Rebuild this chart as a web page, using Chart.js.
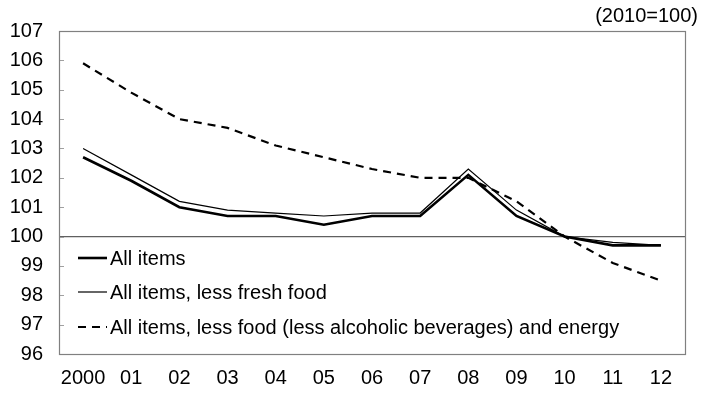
<!DOCTYPE html>
<html>
<head>
<meta charset="utf-8">
<script src="https://cdn.jsdelivr.net/npm/chart.js@4"></script>
<style>
html,body{margin:0;padding:0;background:#fff;}
#wrap{width:716px;height:399px;position:relative;}
</style>
</head>
<body>
<div id="wrap"><canvas id="c" width="716" height="399"></canvas></div>
<script>
const categories = ["2000","01","02","03","04","05","06","07","08","09","10","11","12"];
const allItems = [102.7,101.9,101.0,100.7,100.7,100.4,100.7,100.7,102.1,100.7,100.0,99.7,99.7];
const lessFreshFood = [103.0,102.1,101.2,100.9,100.8,100.7,100.8,100.8,102.3,100.9,100.0,99.8,99.7];
const lessFoodEnergy = [105.9,104.9,104.0,103.7,103.1,102.7,102.3,102.0,102.0,101.2,100.0,99.1,98.5];
const seriesLabels = ["All items","All items, less fresh food","All items, less food (less alcoholic beverages) and energy"];
const yMin = 96, yMax = 107;
const unitNote = "(2010=100)";

const FONT = "'Liberation Sans', Arial, sans-serif";

const framePlugin = {
  id: 'frame',
  afterDatasetsDraw(chart) {
    const ctx = chart.ctx, a = chart.chartArea, ys = chart.scales.y;
    ctx.save();
    // inside tick marks
    ctx.strokeStyle = '#a0a0a0';
    ctx.lineWidth = 1;
    ys.ticks.forEach(t => {
      const py = Math.round(ys.getPixelForValue(t.value)) + 0.5;
      ctx.beginPath(); ctx.moveTo(a.left, py); ctx.lineTo(a.left + 5, py); ctx.stroke();
    });
    // frame
    ctx.strokeStyle = '#808080';
    ctx.lineWidth = 1.2;
    ctx.strokeRect(Math.round(a.left)+0.5, Math.round(a.top)+0.5, Math.round(a.right-a.left), Math.round(a.bottom-a.top));
    // unit note
    ctx.fillStyle = '#000';
    ctx.font = '20px ' + FONT;
    ctx.textAlign = 'right';
    ctx.textBaseline = 'middle';
    ctx.fillText(unitNote, 698, 16);
    // legend
    const x0 = 78, x1 = 107, tx = 110;
    const rows = [258, 292, 327];
    chart.data.datasets.forEach((ds, i) => {
      ctx.strokeStyle = '#000';
      ctx.lineWidth = ds.borderWidth;
      ctx.setLineDash(ds.borderDash || []);
      ctx.beginPath(); ctx.moveTo(x0, rows[i]); ctx.lineTo(x1, rows[i]); ctx.stroke();
      ctx.setLineDash([]);
      ctx.textAlign = 'left';
      ctx.fillText(ds.label, tx, rows[i] + 1);
    });
    ctx.restore();
  }
};

new Chart(document.getElementById('c'), {
  type: 'line',
  data: {
    labels: categories,
    datasets: [
      { label: seriesLabels[0], data: allItems, borderColor: '#000', borderWidth: 2.6, pointRadius: 0, tension: 0, fill: false },
      { label: seriesLabels[1], data: lessFreshFood, borderColor: '#000', borderWidth: 1.2, pointRadius: 0, tension: 0, fill: false },
      { label: seriesLabels[2], data: lessFoodEnergy, borderColor: '#000', borderWidth: 2.2, borderDash: [8, 6], pointRadius: 0, tension: 0, fill: false }
    ]
  },
  options: {
    responsive: false,
    animation: false,
    devicePixelRatio: 1,
    layout: { padding: { top: 31, right: 31, left: 0, bottom: 0 } },
    plugins: { legend: { display: false }, tooltip: { enabled: false } },
    scales: {
      x: {
        offset: true,
        grid: { display: false, drawTicks: false },
        border: { display: false },
        ticks: { color: '#000', font: { family: FONT, size: 20 }, padding: 12, maxRotation: 0, autoSkip: false },
        afterFit(s) { s.height = 45; }
      },
      y: {
        min: yMin, max: yMax,
        grid: {
          drawTicks: false,
          color: ctx => (ctx.tick && ctx.tick.value === 100) ? '#606060' : 'rgba(0,0,0,0)',
          lineWidth: 1.2
        },
        border: { display: false },
        ticks: { stepSize: 1, color: '#000', font: { family: FONT, size: 20 }, padding: 16 },
        afterFit(s) { s.width = 59; }
      }
    }
  },
  plugins: [framePlugin]
});
</script>
</body>
</html>
